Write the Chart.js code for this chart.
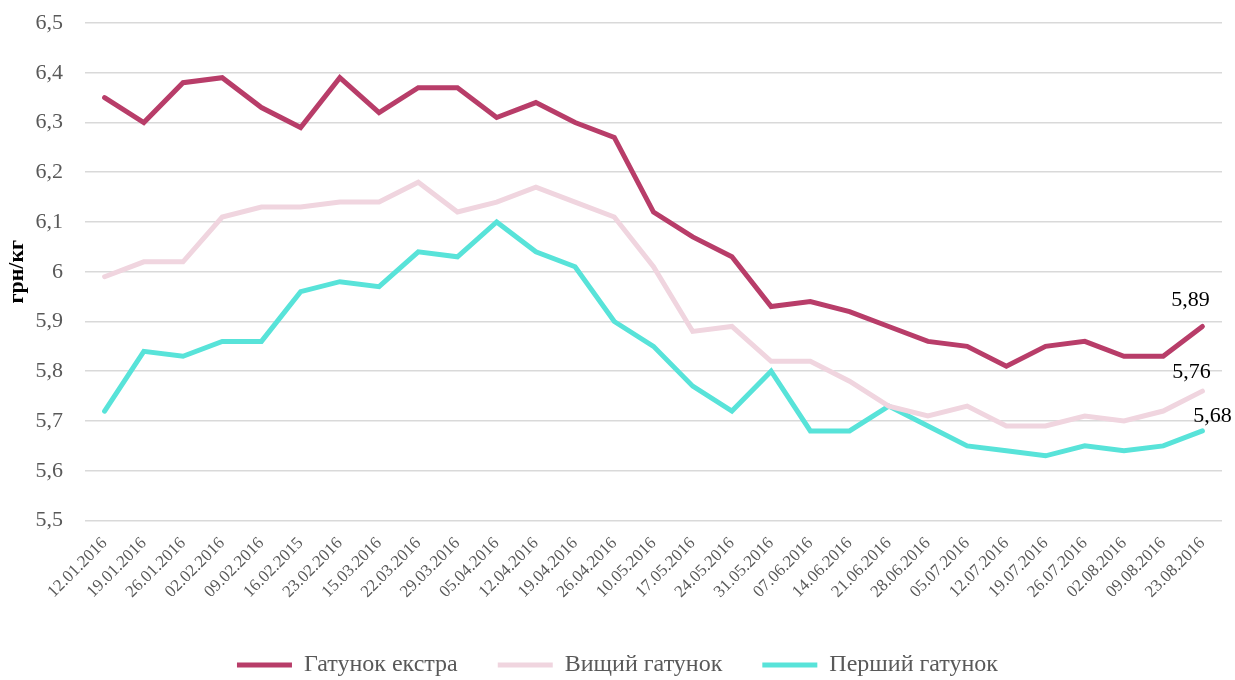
<!DOCTYPE html>
<html>
<head>
<meta charset="utf-8">
<script src="https://cdn.jsdelivr.net/npm/chart.js@4"></script>
<style>
  html, body { margin: 0; padding: 0; background: #fff; }
  #wrap { width: 1235px; height: 680px; }
</style>
</head>
<body>
<div id="wrap"><canvas id="myChart" width="1235" height="680"></canvas></div>
<script>
// Дати спостережень
const dates = ["12.01.2016", "19.01.2016", "26.01.2016", "02.02.2016", "09.02.2016", "16.02.2015",
    "23.02.2016", "15.03.2016", "22.03.2016", "29.03.2016", "05.04.2016", "12.04.2016", "19.04.2016",
    "26.04.2016", "10.05.2016", "17.05.2016", "24.05.2016", "31.05.2016", "07.06.2016", "14.06.2016",
    "21.06.2016", "28.06.2016", "05.07.2016", "12.07.2016", "19.07.2016", "26.07.2016", "02.08.2016",
    "09.08.2016", "23.08.2016"];

// Ціни, грн/кг
const ekstra = [6.35, 6.30, 6.38, 6.39, 6.33, 6.29, 6.39, 6.32, 6.37, 6.37, 6.31, 6.34, 6.30, 6.27,
    6.12, 6.07, 6.03, 5.93, 5.94, 5.92, 5.89, 5.86, 5.85, 5.81, 5.85, 5.86, 5.83, 5.83, 5.89];
const vyshchyi = [5.99, 6.02, 6.02, 6.11, 6.13, 6.13, 6.14, 6.14, 6.18, 6.12, 6.14, 6.17, 6.14, 6.11,
    6.01, 5.88, 5.89, 5.82, 5.82, 5.78, 5.73, 5.71, 5.73, 5.69, 5.69, 5.71, 5.70, 5.72, 5.76];
const pershyi = [5.72, 5.84, 5.83, 5.86, 5.86, 5.96, 5.98, 5.97, 6.04, 6.03, 6.10, 6.04, 6.01, 5.90,
    5.85, 5.77, 5.72, 5.80, 5.68, 5.68, 5.73, 5.69, 5.65, 5.64, 5.63, 5.65, 5.64, 5.65, 5.68];

const seriesNames = ["Гатунок екстра", "Вищий гатунок", "Перший гатунок"];
const yTicks = [5.5, 6.5, 0.1]; // min, max, крок

const colors = ["#b83d69", "#f0d5df", "#58e3d9"];
const fontFamily = "'Liberation Serif', 'Times New Roman', serif";

const fmt = v => Number(v.toFixed(2)).toString().replace(".", ",");

// Підписи останніх значень
const lastLabels = {
    id: "lastLabels",
    afterDatasetsDraw(chart, args, opts) {
        const {ctx} = chart;
        ctx.save();
        ctx.font = "22px " + fontFamily;
        ctx.fillStyle = "#000";
        ctx.textAlign = "center";
        ctx.textBaseline = "alphabetic";
        chart.data.datasets.forEach((ds, i) => {
            const meta = chart.getDatasetMeta(i);
            const last = meta.data[meta.data.length - 1];
            const off = opts.offsets[i];
            ctx.fillText(fmt(ds.data[ds.data.length - 1]), last.x + off[0], last.y + off[1]);
        });
        ctx.restore();
    }
};

const makeDs = (label, data, color) => ({
    label,
    data,
    borderColor: color,
    backgroundColor: color,
    borderWidth: 5,
    borderCapStyle: "round",
    borderJoinStyle: "miter",
    pointRadius: 0,
    tension: 0
});

const config = {
    type: "line",
    data: {
        labels: dates,
        datasets: [
            makeDs(seriesNames[0], ekstra, colors[0]),
            makeDs(seriesNames[1], vyshchyi, colors[1]),
            makeDs(seriesNames[2], pershyi, colors[2])
        ]
    },
    options: {
        responsive: false,
        animation: false,
        layout: { padding: { left: 0, right: 0, top: 23, bottom: -7 } },
        plugins: {
            legend: {
                position: "bottom",
                labels: {
                    usePointStyle: true,
                    pointStyle: "line",
                    pointStyleWidth: 55,
                    color: "#595959",
                    font: { family: fontFamily, size: 24 },
                    padding: 40
                }
            },
            tooltip: { enabled: false },
            lastLabels: { offsets: [[-12, -20], [-11, -13], [10, -9]] }
        },
        scales: {
            x: {
                offset: true,
                grid: { display: false },
                border: { display: false },
                afterFit: scale => {
                    scale.paddingLeft = 0;
                    scale.paddingRight = 13;
                    scale.height += 6;
                },
                ticks: {
                    color: "#595959",
                    font: { family: fontFamily, size: 17 },
                    padding: 5,
                    maxRotation: 45,
                    minRotation: 45,
                    autoSkip: false
                }
            },
            y: {
                min: yTicks[0],
                max: yTicks[1],
                grid: { color: "#d9d9d9", lineWidth: 1.5, drawTicks: false },
                border: { display: false },
                afterFit: scale => {
                    scale.width = 85;
                    scale.paddingTop = 0;
                    scale.paddingBottom = 0;
                },
                title: {
                    display: true,
                    text: "грн/кг",
                    color: "#000",
                    font: { family: fontFamily, size: 22, weight: "bold" },
                    padding: { top: 4, bottom: 0 }
                },
                ticks: {
                    stepSize: yTicks[2],
                    color: "#595959",
                    font: { family: fontFamily, size: 22 },
                    padding: 22,
                    callback: v => Number(v.toFixed(1)).toString().replace(".", ",")
                }
            }
        }
    },
    plugins: [lastLabels]
};

new Chart(document.querySelector("#myChart"), config);
</script>
</body>
</html>
